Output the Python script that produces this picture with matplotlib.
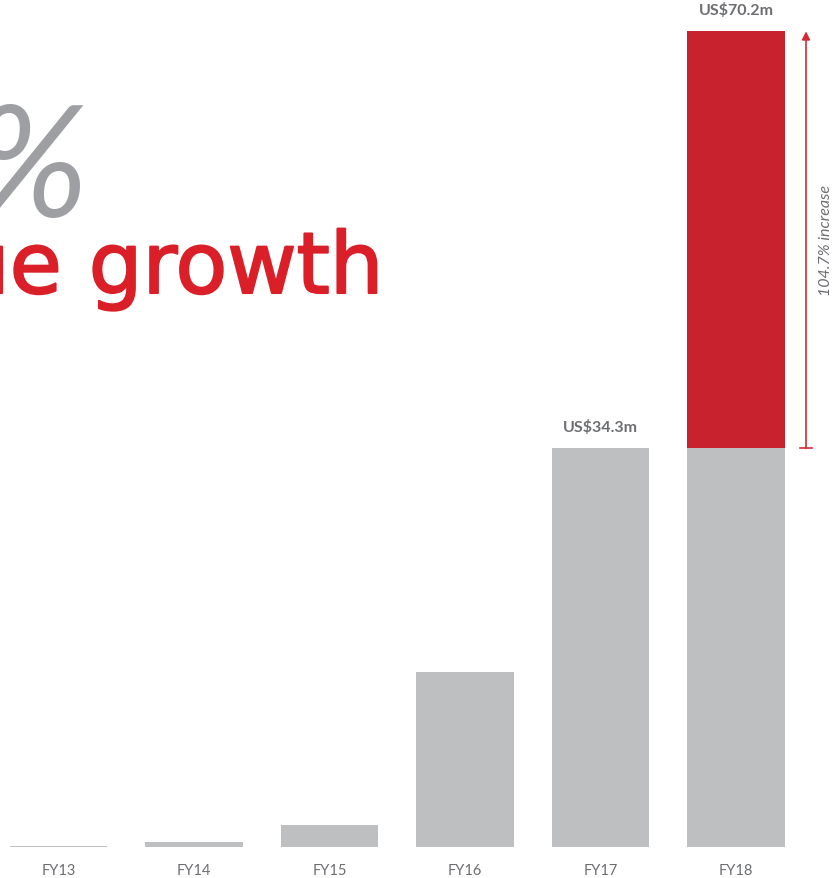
import matplotlib
matplotlib.use("Agg")
import matplotlib.pyplot as plt
import matplotlib.patheffects as pe

categories = ["FY13", "FY14", "FY15", "FY16", "FY17", "FY18"]
base_values = [0.08, 0.4, 1.9, 15.0, 34.3, 34.3]
increase_values = [0, 0, 0, 0, 0, 35.9]
value_labels = {4: "US$34.3m", 5: "US$70.2m"}
increase_text = "104.7% increase"

W, H = 834, 879
fig = plt.figure(figsize=(W / 100, H / 100), dpi=100)
base_px = 847.7
ax = fig.add_axes([0, (H - base_px) / H, 1, base_px / H])
ax.set_xlim(-58.5 / 135.5, (W - 58.5) / 135.5)
ax.set_ylim(0, base_px / 11.615)
ax.axis("off")

grey = "#BEBFC1"
red = "#C8222F"
x = list(range(len(categories)))
ax.bar(x, base_values, width=0.723, color=grey, zorder=2)
ax.bar(x, increase_values, bottom=base_values, width=0.723, color=red, zorder=2)

for i, lab in value_labels.items():
    top = base_values[i] + increase_values[i]
    ax.annotate(lab, (i, top), xytext=(0, 10), textcoords="offset points",
                ha="center", va="bottom", fontsize=11.5, fontweight="bold",
                color="#6D6E71", family="Lato")

for i, c in enumerate(categories):
    ax.annotate(c, (i, 0), xytext=(0, -12), textcoords="offset points",
                ha="center", va="top", fontsize=10.5, color="#6D6E71",
                family="Lato", annotation_clip=False)

# arrow for increase
ax_x = 5 + (806 - 736) / 135.5
lo = base_values[5]
hi = base_values[5] + increase_values[5]
ax.annotate("", xy=(ax_x, hi), xytext=(ax_x, lo),
            arrowprops=dict(arrowstyle="-|>", color="#D42A35", lw=1.2,
                            mutation_scale=12, shrinkA=0, shrinkB=0))
ax.plot([ax_x - 0.045, ax_x + 0.045], [lo, lo], color="#D42A35", lw=1.2)
ax.text(5 + (826 - 736) / 135.5, (lo + hi) / 2, increase_text, rotation=90,
        ha="center", va="center", fontsize=11.5, style="italic", color="#6D6E71",
        family="Lato")

# headline (cropped at left edge in the original)
fig.text(88 / W, 1 - 217 / H, "%", ha="right", va="baseline",
         fontsize=112, color="#9D9FA2", family="Lato", style="italic")
fig.text(384 / W, 1 - 294 / H, "ue growth", ha="right", va="baseline",
         fontsize=61, color="#DA1F28", family="DejaVu Sans",
         path_effects=[pe.withStroke(linewidth=1.5, foreground="#DA1F28")])

fig.savefig("out.png", dpi=100)
